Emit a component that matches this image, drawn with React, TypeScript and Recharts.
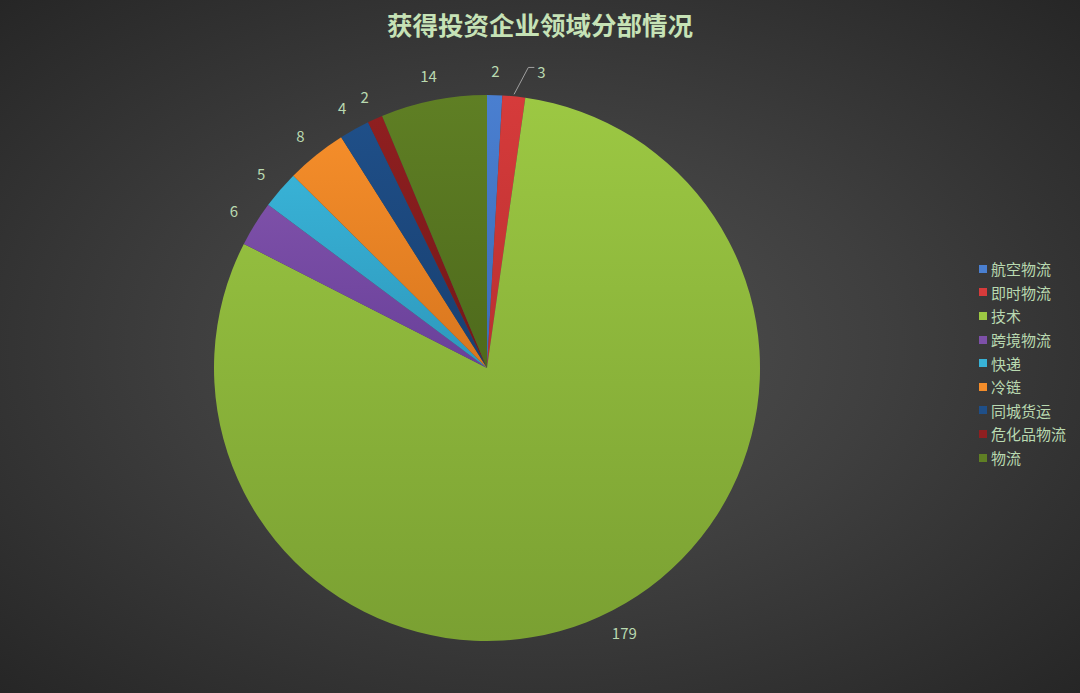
import { PieChart, Pie, Cell, Legend } from 'recharts'

const categories = ['航空物流', '即时物流', '技术', '跨境物流', '快递', '冷链', '同城货运', '危化品物流', '物流']
const counts = [2, 3, 179, 6, 5, 8, 4, 2, 14]
const colors = ['#4a7fd0', '#d63b3b', '#9cc843', '#7d50a8', '#38b2d6', '#f48d2a', '#1f4f88', '#8f1f20', '#5f7f24']
const shades = ['#3c6cb8', '#b93030', '#7aa032', '#69409a', '#2e98bc', '#d8761e', '#183f70', '#741818', '#4e6a1c']

const data = categories.map((name, i) => ({ name, value: counts[i] }))

const RAD = Math.PI / 180
const textColor = '#b9d9b0'

const renderLabel = (p: any) => {
  const { cx, cy, outerRadius, midAngle, index, value } = p
  const r = outerRadius + 25
  const x = cx + r * Math.cos(-midAngle * RAD)
  const y = cy + r * Math.sin(-midAngle * RAD)
  if (index === 1) {
    // pushed aside to avoid the neighbour label, with a leader line
    const ex = cx + (outerRadius + 2) * Math.cos(-midAngle * RAD)
    const ey = cy + (outerRadius + 2) * Math.sin(-midAngle * RAD)
    const tx = x + 25
    return (
      <g>
        <polyline points={`${ex},${ey} ${tx - 13},${y - 4} ${tx - 7},${y - 4}`} fill="none" stroke="#a0a0a0" strokeWidth={1} />
        <text x={tx} y={y} fill={textColor} fontSize={15} textAnchor="middle" dominantBaseline="central">{value}</text>
      </g>
    )
  }
  return (
    <text x={x} y={y} fill={textColor} fontSize={15} textAnchor="middle" dominantBaseline="central">{value}</text>
  )
}

const renderLegend = () => (
  <div style={{ display: 'flex', flexDirection: 'column', gap: 4 }}>
    {categories.map((c, i) => (
      <div key={c} style={{ display: 'flex', alignItems: 'center', height: 19.6 }}>
        <span style={{ width: 8, height: 8, background: colors[i], marginRight: 4, display: 'inline-block' }} />
        <span style={{ color: textColor, fontSize: 15 }}>{c}</span>
      </div>
    ))}
  </div>
)

export default function App() {
  return (
    <div style={{
      position: 'absolute', left: 0, top: 0, width: 1080, height: 693,
      background: 'radial-gradient(ellipse at 50% 50%, #515151 0%, #3f3f3f 45%, #262626 100%)',
      fontFamily: '"Noto Sans CJK SC", "Noto Sans", sans-serif',
    }}>
      <div style={{
        position: 'absolute', top: 5, left: 0, width: 1080, textAlign: 'center',
        fontSize: 25.5, fontWeight: 700, color: '#c6e2b6', lineHeight: '38px',
      }}>
        获得投资企业领域分部情况
      </div>
      <PieChart width={1080} height={693} margin={{ top: 0, right: 0, bottom: 0, left: 0 }}>
        <defs>
          {colors.map((c, i) => (
            <linearGradient key={i} id={`g${i}`} x1="0" y1="0" x2="0" y2="1">
              <stop offset="0%" stopColor={c} />
              <stop offset="100%" stopColor={shades[i]} />
            </linearGradient>
          ))}
        </defs>
        <Pie
          data={data}
          dataKey="value"
          nameKey="name"
          cx={487}
          cy={368}
          outerRadius={273}
          startAngle={90}
          endAngle={-270}
          stroke="none"
          label={renderLabel}
          labelLine={false}
          isAnimationActive={false}
        >
          {data.map((d, i) => (
            <Cell key={d.name} fill={`url(#g${i})`} />
          ))}
        </Pie>
        <Legend
          layout="vertical"
          align="right"
          verticalAlign="top"
          content={renderLegend}
          wrapperStyle={{ left: 979, top: 259, width: 110 }}
        />
      </PieChart>
    </div>
  )
}
